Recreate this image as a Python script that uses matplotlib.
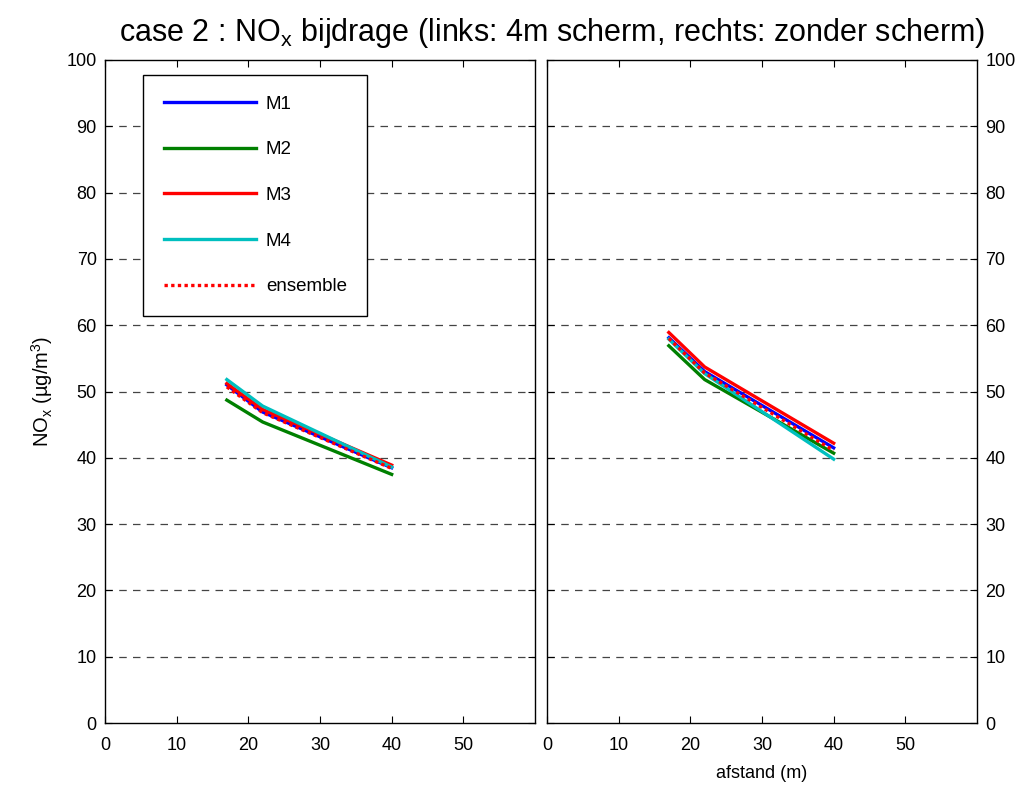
import matplotlib
matplotlib.use("Agg")
import matplotlib.pyplot as plt

plt.rcParams['font.family'] = ['Liberation Sans', 'DejaVu Sans']

afstand = [17, 22, 40]

# links: 4m scherm
links_M1 = [51.0, 46.9, 38.5]
links_M2 = [48.7, 45.4, 37.5]
links_M3 = [51.2, 47.3, 38.9]
links_M4 = [51.8, 47.8, 38.6]
links_ensemble = [50.7, 46.8, 38.4]

# rechts: zonder scherm
rechts_M1 = [58.1, 53.0, 41.5]
rechts_M2 = [56.9, 51.8, 40.7]
rechts_M3 = [58.9, 53.7, 42.2]
rechts_M4 = [57.9, 52.7, 39.8]
rechts_ensemble = [58.0, 52.8, 41.1]

labels = ['M1', 'M2', 'M3', 'M4', 'ensemble']
colors = ['#0000ff', '#008000', '#ff0000', '#00bfbf', '#ff0000']
xticks = [0, 10, 20, 30, 40, 50]
yticks = list(range(0, 101, 10))

W, H = 1022, 785
fig = plt.figure(figsize=(W / 100, H / 100), dpi=100)

ax_l = fig.add_axes([105 / W, 1 - 723 / H, 430 / W, 663 / H])
ax_r = fig.add_axes([547 / W, 1 - 723 / H, 430 / W, 663 / H])


def style(ax, side):
    ax.set_xlim(0, 60)
    ax.set_ylim(0, 100)
    ax.set_xticks(xticks)
    ax.set_yticks(yticks)
    for yv in yticks[1:-1]:
        ax.axhline(yv, color='#444444', lw=0.9, ls=(0, (6, 5)), zorder=0)
    ax.tick_params(direction='in', length=5, width=0.8, labelsize=13,
                   top=True, bottom=True, left=True, right=True,
                   labelleft=(side == 'left'), labelright=(side == 'right'))
    ax.tick_params(axis='x', pad=10)
    ax.tick_params(axis='y', pad=6)
    for s in ax.spines.values():
        s.set_linewidth(1.0)


for ax, series, side in [
    (ax_l, [links_M1, links_M2, links_M3, links_M4, links_ensemble], 'left'),
    (ax_r, [rechts_M1, rechts_M2, rechts_M3, rechts_M4, rechts_ensemble], 'right'),
]:
    style(ax, side)
    for vals, lab, col in zip(series, labels, colors):
        if lab == 'ensemble':
            ax.plot(afstand, vals, color=col, lw=2.4, ls=(0, (1, 1)),
                    label=lab, zorder=5)
        else:
            ax.plot(afstand, vals, color=col, lw=2.4, label=lab, zorder=3)

leg = ax_l.legend(loc='upper left', bbox_to_anchor=((143 - 105) / 430, (723 - 75) / 663),
                  borderaxespad=0, fontsize=13.5, handlelength=4.9,
                  handletextpad=0.55, labelspacing=1.52, borderpad=1.1,
                  fancybox=False, framealpha=1, edgecolor='black')
leg.get_frame().set_linewidth(1.0)

ax_l.set_ylabel('NO$_\\mathregular{x}$ (\u00b5g/m$^\\mathregular{3}$)', fontsize=14.5,
                labelpad=8)
ax_r.set_xlabel('afstand (m)', fontsize=13, labelpad=8)

fig.text(0.540, 1 - 33 / H,
         'case 2 : NO$_\\mathregular{x}$ bijdrage (links: 4m scherm, rechts: zonder scherm)',
         ha='center', va='center', fontsize=22)

fig.savefig('out.png', dpi=100)
